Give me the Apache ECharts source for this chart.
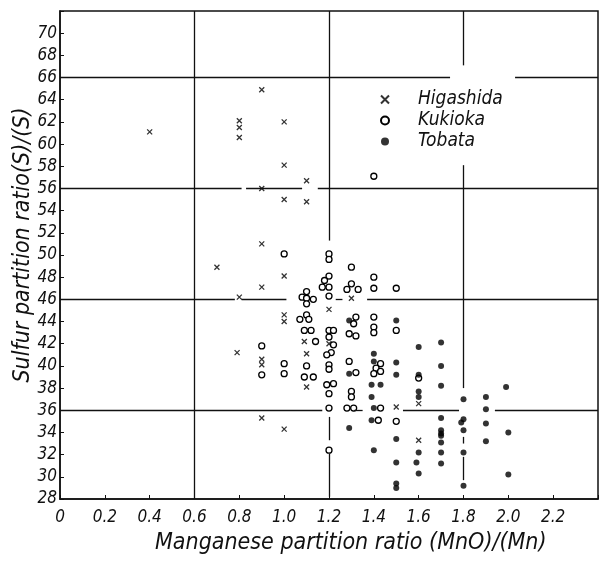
<!DOCTYPE html>
<html><head><meta charset="utf-8">
<script src="https://cdn.jsdelivr.net/npm/echarts@6/dist/echarts.min.js"></script>
<style>html,body{margin:0;padding:0;background:#fff}#c{width:601px;height:561px}</style>
</head><body><div id="c"></div>
<script>
// ---- data ----
const xTickLabels = ['0','0.2','0.4','0.6','0.8','1.0','1.2','1.4','1.6','1.8','2.0','2.2',''];
const yTickLabels = ['28','30','32','34','36','38','40','42','44','46','48','50','52','54','56','58','60','62','64','66','68','70',''];

const higashida = [
  [0.4,61.1],[0.7,48.9],
  [0.8,62.1],[0.8,61.5],[0.8,60.6],[0.8,46.2],[0.79,41.2],
  [0.9,64.9],[0.9,56.0],[0.9,51.0],[0.9,47.1],[0.9,40.6],[0.9,40.1],[0.9,35.3],
  [1.0,62.0],[1.0,58.1],[1.0,55.0],[1.0,48.1],[1.0,44.6],[1.0,44.0],[1.0,34.3],
  [1.1,56.7],[1.1,54.8],[1.09,42.2],[1.1,41.1],[1.1,38.1],
  [1.2,45.1],[1.2,42.0],
  [1.3,46.1],
  [1.5,36.3],
  [1.6,36.6],[1.6,33.3]
];
const kukioka = [
  [0.9,41.8],[0.9,39.2],
  [1.0,50.1],[1.0,40.2],[1.0,39.3],
  [1.1,46.7],[1.08,46.2],[1.1,46.1],[1.13,46.0],[1.1,45.6],
  [1.1,44.6],[1.07,44.2],[1.11,44.2],[1.09,43.2],[1.12,43.2],[1.14,42.2],
  [1.1,40.0],[1.09,39.0],[1.13,39.0],
  [1.2,50.1],[1.2,49.6],[1.2,48.1],[1.18,47.7],[1.17,47.1],[1.2,47.1],[1.2,46.3],
  [1.2,43.2],[1.22,43.2],[1.2,42.6],[1.22,41.9],[1.21,41.2],[1.19,41.0],
  [1.2,40.1],[1.2,39.7],[1.19,38.3],[1.22,38.4],[1.2,37.5],[1.2,36.2],[1.2,32.4],
  [1.3,48.9],[1.3,47.4],[1.28,46.9],[1.33,46.9],
  [1.32,44.4],[1.31,43.8],[1.29,42.9],[1.32,42.7],[1.29,40.4],[1.32,39.4],
  [1.3,37.7],[1.3,37.2],[1.28,36.2],[1.31,36.2],
  [1.4,57.1],[1.4,48.0],[1.4,47.0],[1.4,44.4],[1.4,43.5],[1.4,43.0],
  [1.43,40.2],[1.41,39.8],[1.4,39.3],[1.43,39.5],[1.43,36.2],[1.42,35.1],
  [1.5,47.0],[1.5,43.2],[1.5,35.0],
  [1.6,38.9]
];
const tobata = [
  [1.29,44.1],[1.29,39.3],[1.29,34.4],
  [1.4,41.1],[1.4,40.4],[1.39,38.3],[1.43,38.3],[1.39,37.2],[1.4,36.2],[1.39,35.1],[1.4,32.4],
  [1.5,44.1],[1.5,40.3],[1.5,39.2],[1.5,33.4],[1.5,31.3],[1.5,29.4],[1.5,29.0],
  [1.6,41.7],[1.6,39.2],[1.6,37.7],[1.6,37.2],[1.6,32.2],[1.59,31.3],[1.6,30.3],
  [1.7,42.1],[1.7,40.0],[1.7,38.2],[1.7,35.3],[1.7,34.2],[1.7,33.9],[1.7,33.7],[1.7,33.1],[1.7,32.2],[1.7,31.2],
  [1.8,37.0],[1.8,35.2],[1.79,34.9],[1.8,34.2],[1.8,32.2],[1.8,29.2],
  [1.9,37.2],[1.9,36.1],[1.9,34.8],[1.9,33.2],
  [1.99,38.1],[2.0,34.0],[2.0,30.2]
];
// grid rules of the original (broken where the draughtsman left gaps)
const hRules = [ // [y, xFrom, xTo]
  [66,0,1.74],[66,2.03,2.4],
  [56,0,0.81],[56,0.83,1.08],[56,1.15,2.4],
  [46,0,0.78],[46,0.81,1.01],[46,1.23,1.26],[46,1.37,2.4],
  [36,0,1.17],[36,1.31,1.35],[36,1.53,1.78],[36,1.94,2.4]
];
const vRules = [ // [x, yFrom, yTo]
  [0.6,28,72],
  [1.2,51.3,72],[1.2,33.3,35.4],[1.2,28.2,32.1],
  [1.8,67.1,72],[1.8,38.0,58.1],[1.8,33.0,33.6],[1.8,29.7,31.8]
];

const FONT = '"Liberation Sans Narrow","DejaVu Sans Condensed","DejaVu Sans",sans-serif';
const chart = echarts.init(document.getElementById('c'), null, {renderer:'canvas'});
const ruleData = hRules.map(r => [{coord:[r[1],r[0]]},{coord:[r[2],r[0]]}])
  .concat(vRules.map(r => [{coord:[r[0],r[1]]},{coord:[r[0],r[2]]}]));

chart.setOption({
  animation:false,
  backgroundColor:'#fff',
  grid:{left:60,right:2,top:11,bottom:62,show:true,borderColor:'#111',borderWidth:1.5},
  xAxis:{type:'value',min:0,max:2.4,interval:0.2,
    axisLine:{show:true,lineStyle:{color:'#111',width:1.5}},
    axisTick:{show:true,inside:true,length:4,lineStyle:{color:'#111'}},
    splitLine:{show:false},
    axisLabel:{margin:10,fontSize:17,fontStyle:'italic',color:'#111',fontFamily:FONT,
      formatter:(v,i)=>xTickLabels[i] ?? ''}},
  yAxis:{type:'value',min:28,max:72,interval:2,
    axisLine:{show:true,lineStyle:{color:'#111',width:1.5}},
    axisTick:{show:true,inside:true,length:4,lineStyle:{color:'#111'}},
    splitLine:{show:false},
    axisLabel:{margin:3,fontSize:17,fontStyle:'italic',color:'#111',fontFamily:FONT,
      formatter:(v,i)=>yTickLabels[i] ?? ''}},
  legend:{orient:'vertical',left:375,top:85,itemGap:2,itemWidth:56,itemHeight:8,
    data:['Higashida','Kukioka','Tobata'],
    textStyle:{fontSize:19,fontStyle:'italic',color:'#111',fontFamily:FONT}},
  graphic:[
    {type:'text',left:155,top:532,style:{text:'Manganese partition ratio (MnO)/(Mn)',
      font:'italic 23px '+FONT,fill:'#111'}},
    {type:'text',x:23,y:245,rotation:Math.PI/2,style:{text:'Sulfur partition ratio(S)/(S)',
      font:'italic 23px '+FONT,fill:'#111',align:'center',verticalAlign:'middle'}}
  ],
  series:[
    {name:'rules',type:'scatter',data:[],silent:true,
      markLine:{silent:true,symbol:'none',animation:false,label:{show:false},
        lineStyle:{color:'#111',width:1.3,type:'solid'},data:ruleData}},
    {name:'Higashida',type:'scatter',data:higashida,symbol:'path://M0,0L10,10M10,0L0,10',symbolSize:5,
      itemStyle:{color:'#000',borderColor:'#000',borderWidth:1.3}},
    {name:'Kukioka',type:'scatter',data:kukioka,symbol:'circle',symbolSize:6,
      itemStyle:{color:'#fff',borderColor:'#000',borderWidth:1.3,opacity:1}},
    {name:'Tobata',type:'scatter',data:tobata,symbol:'circle',symbolSize:6,
      itemStyle:{color:'#000'}}
  ]
});
</script></body></html>
